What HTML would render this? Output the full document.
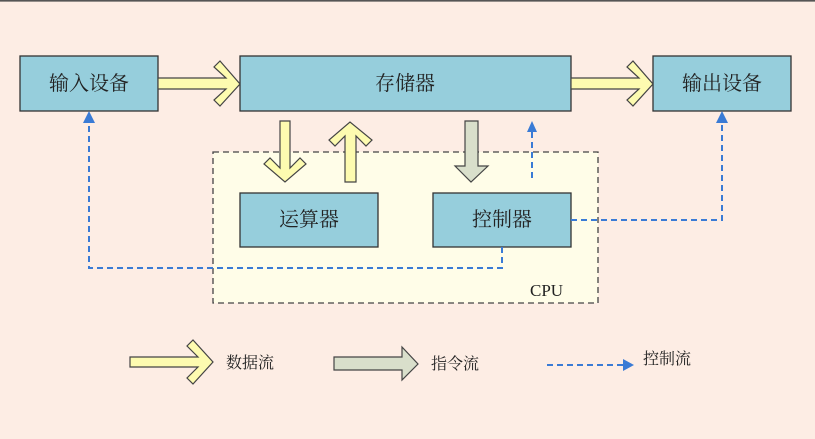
<!DOCTYPE html>
<html><head><meta charset="utf-8"><style>
html,body{margin:0;padding:0;background:#fdede4;}
svg{display:block;}
text{font-family:"Liberation Serif","Noto Serif CJK SC","Noto Sans CJK SC",serif;fill:#222;}
</style></head><body>
<svg width="815" height="439" viewBox="0 0 815 439" xmlns="http://www.w3.org/2000/svg">
<rect x="0" y="0" width="815" height="439" fill="#fdede4"/>
<line x1="0" y1="0.8" x2="815" y2="0.8" stroke="#555" stroke-width="1.6"/>
<!-- CPU box -->
<rect x="213" y="152" width="385" height="151" fill="#fffde8" stroke="#444" stroke-width="1.3" stroke-dasharray="6,4"/>
<text x="530" y="296" font-size="17">CPU</text>
<!-- boxes -->
<g fill="#96cedc" stroke="#333" stroke-width="1.3">
<rect x="20" y="56" width="138" height="55"/>
<rect x="240" y="56" width="331" height="55"/>
<rect x="653" y="56" width="138" height="55"/>
<rect x="240" y="193" width="138" height="54"/>
<rect x="433" y="193" width="138" height="54"/>
</g>
<g font-size="20" text-anchor="middle">
<text x="89" y="90">输入设备</text>
<text x="405" y="90">存储器</text>
<text x="722" y="90">输出设备</text>
<text x="309" y="226">运算器</text>
<text x="502" y="226">控制器</text>
</g>
<!-- yellow arrows -->
<g fill="#fdfbb0" stroke="#444" stroke-width="1.2">
<polygon points="158,78 226,78 214,67 220,61 240,84 220,106 214,100 226,89 158,89"/>
<polygon points="571,78 639,78 627,67 633,61 653,84 633,106 627,100 639,89 571,89"/>
<polygon points="280,121 290,121 290,168 300,158 306,164 285,182 264,164 270,158 280,168"/>
<polygon points="345,182 356,182 356,136 366,146 372,140 350,122 329,140 335,146 345,136"/>
<polygon points="130,357 198,357 187,346 193,340 213,362 193,384 187,378 198,367 130,367"/>
</g>
<!-- gray arrows -->
<g fill="#d9dfcb" stroke="#444" stroke-width="1.2">
<polygon points="465,121 478,121 478,166 488,166 471,182 455,166 465,166"/>
<polygon points="334,357 402,357 402,347 418,364 402,380 402,370 334,370"/>
</g>
<!-- control dashed -->
<g fill="none" stroke="#3a7bd5" stroke-width="2" stroke-dasharray="6,4">
<polyline points="532,178 532,130"/>
<polyline points="571,220 722,220 722,120"/>
<polyline points="502,247 502,268 89,268 89,120"/>
<polyline points="547,365 626,365"/>
</g>
<g fill="#3a7bd5">
<polygon points="532,121 527,132 537,132"/>
<polygon points="722,111 716,123 728,123"/>
<polygon points="89,111 83,123 95,123"/>
<polygon points="634,365 623,359 623,371"/>
</g>
<g font-size="16">
<text x="226" y="368">数据流</text>
<text x="431" y="369">指令流</text>
<text x="643" y="364">控制流</text>
</g>
</svg>
</body></html>
